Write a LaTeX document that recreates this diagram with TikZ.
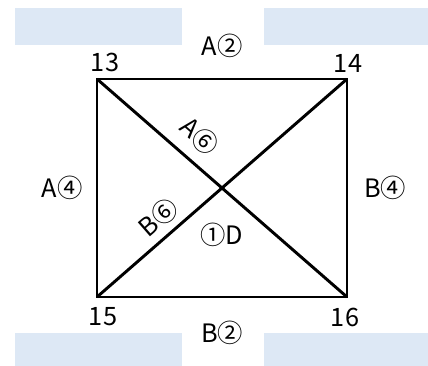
\documentclass[tikz,border=0pt]{standalone}
\usepackage{fontspec}
\setmainfont{Noto Sans CJK JP}
\definecolor{boxblue}{HTML}{DDE8F5}
\begin{document}
\begin{tikzpicture}[x=0.75pt, y=-0.75pt, every node/.style={font=\fontsize{19}{21}\selectfont, inner sep=0pt}]
\useasboundingbox (0,0) rectangle (428,366);
\fill[boxblue] (15,8) rectangle (182,45);
\fill[boxblue] (264,8) rectangle (428,45);
\fill[boxblue] (15,333) rectangle (182,366);
\fill[boxblue] (264,333) rectangle (428,366);
\coordinate (p13) at (97,79);
\coordinate (p14) at (347,79);
\coordinate (p15) at (97,297);
\coordinate (p16) at (347,297);
\draw[line width=2.2pt] (p13) -- (p14) -- (p16) -- (p15) -- cycle;
\draw[line width=2.2pt] (p13) -- (p16);
\draw[line width=2.2pt] (p14) -- (p15);
\node (n13) at (105,62) {13};
\node (n14) at (348,63) {14};
\node (n15) at (103,317) {15};
\node (n16) at (345,317) {16};
\node (a2) at (222,46) {A②};
\node (b2) at (222,333) {B②};
\node (a4) at (62,188) {A④};
\node (b4) at (385,188) {B④};
\node[rotate=-41] (a6) at (200,136) {A⑥};
\node[rotate=41] (b6) at (158,217) {B⑥};
\node (d1) at (222,235) {①D};
\end{tikzpicture}
\end{document}
